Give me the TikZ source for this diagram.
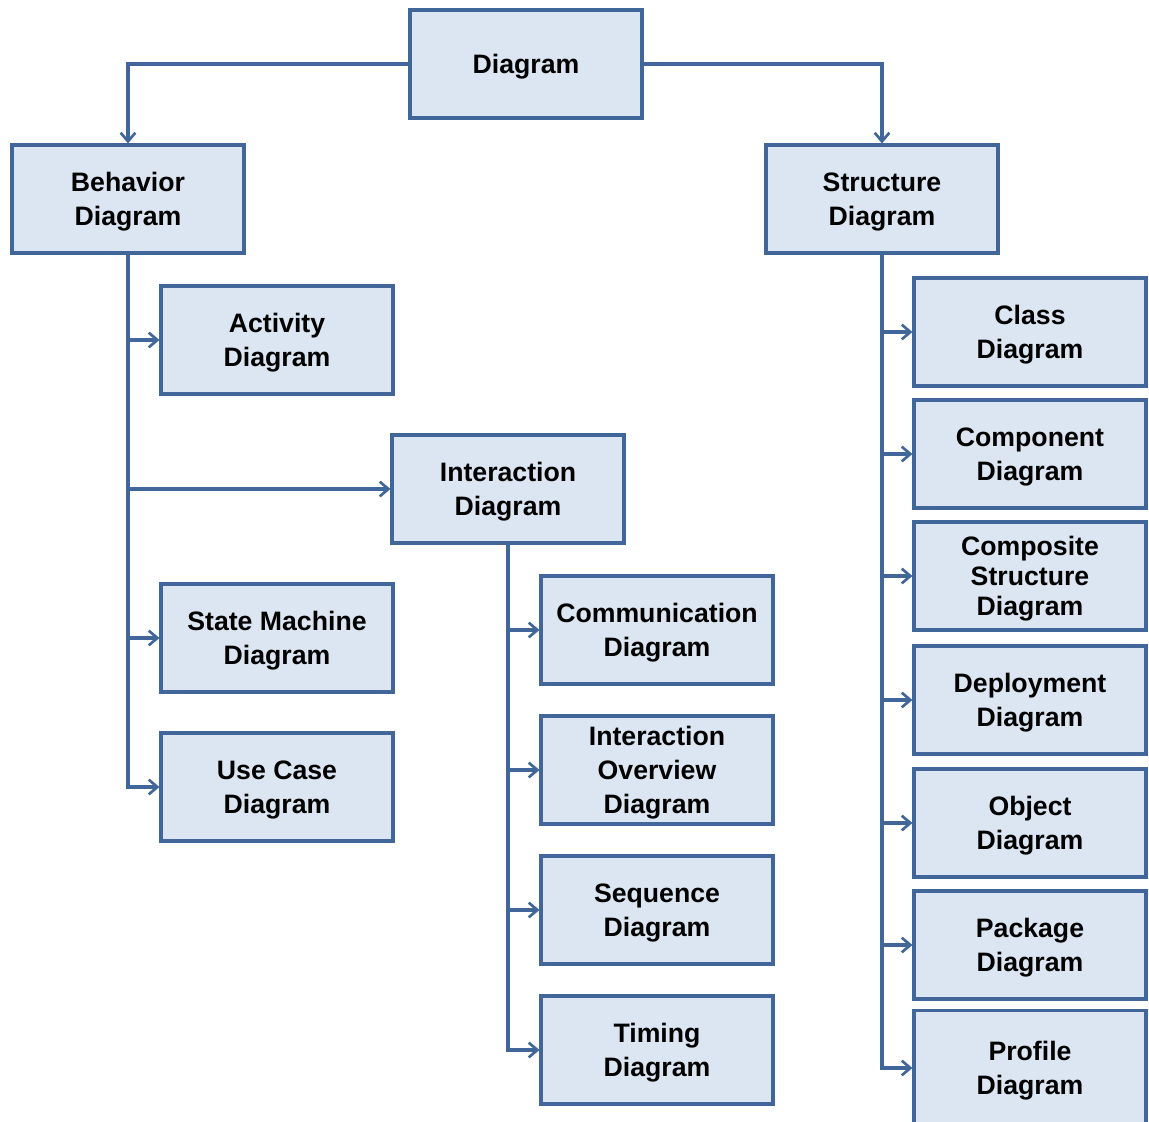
\documentclass[tikz,border=0pt]{standalone}
\usepackage{fontspec}
\setmainfont{Liberation Sans}
\usetikzlibrary{arrows.meta}
\definecolor{boxfill}{HTML}{DCE6F2}
\definecolor{boxline}{HTML}{41679A}
\tikzset{
  box/.style={draw=boxline, fill=boxfill, line width=2.3pt, rectangle,
    minimum width=174pt, minimum height=81pt, inner sep=0pt,
    text depth=0pt,
    align=center, font=\fontsize{20}{25.5}\selectfont\bfseries},
  tight/.style={font=\fontsize{20}{22.5}\selectfont\bfseries},
  link/.style={draw=boxline, line width=2.4pt,
    -{Straight Barb[length=6.5pt,width=11pt,line width=2pt]}}
}
\begin{document}
\begin{tikzpicture}[x=0.75pt,y=-0.75pt]
\useasboundingbox (0,0) rectangle (1149,1121);
\fill[white] (0,0) rectangle (1149,1121);

% top level
\node[box] (diag) at (526,64) {Diagram};
\node[box] (beh) at (128,199) {Behavior\\Diagram};
\node[box] (str) at (882,199) {Structure\\Diagram};

% behavior branch
\node[box] (act) at (277,340) {Activity\\Diagram};
\node[box] (inter) at (508,489) {Interaction\\Diagram};
\node[box] (state) at (277,638) {State Machine\\Diagram};
\node[box] (use) at (277,787) {Use Case\\Diagram};

% interaction branch
\node[box] (comm) at (657,630) {Communication\\Diagram};
\node[box] (over) at (657,770) {Interaction\\Overview\\Diagram};
\node[box] (seq) at (657,910) {Sequence\\Diagram};
\node[box] (tim) at (657,1050) {Timing\\Diagram};

% structure branch
\node[box] (cls) at (1030,332) {Class\\Diagram};
\node[box] (comp) at (1030,454) {Component\\Diagram};
\node[box,tight] (csd) at (1030,576) {Composite\\Structure\\Diagram};
\node[box] (dep) at (1030,700) {Deployment\\Diagram};
\node[box] (obj) at (1030,823) {Object\\Diagram};
\node[box] (pkg) at (1030,945) {Package\\Diagram};
\node[box, minimum height=86pt] (prof) at (1030,1068) {Profile\\Diagram};

% connectors
\draw[link] (diag.west) -| (beh.north);
\draw[link] (diag.east) -| (str.north);

\draw[link] (beh.south) |- (act.west);
\draw[link] (beh.south) |- (inter.west);
\draw[link] (beh.south) |- (state.west);
\draw[link] (beh.south) |- (use.west);

\draw[link] (inter.south) |- (comm.west);
\draw[link] (inter.south) |- (over.west);
\draw[link] (inter.south) |- (seq.west);
\draw[link] (inter.south) |- (tim.west);

\draw[link] (str.south) |- (cls.west);
\draw[link] (str.south) |- (comp.west);
\draw[link] (str.south) |- (csd.west);
\draw[link] (str.south) |- (dep.west);
\draw[link] (str.south) |- (obj.west);
\draw[link] (str.south) |- (pkg.west);
\draw[link] (str.south) |- (prof.west);
\end{tikzpicture}
\end{document}
